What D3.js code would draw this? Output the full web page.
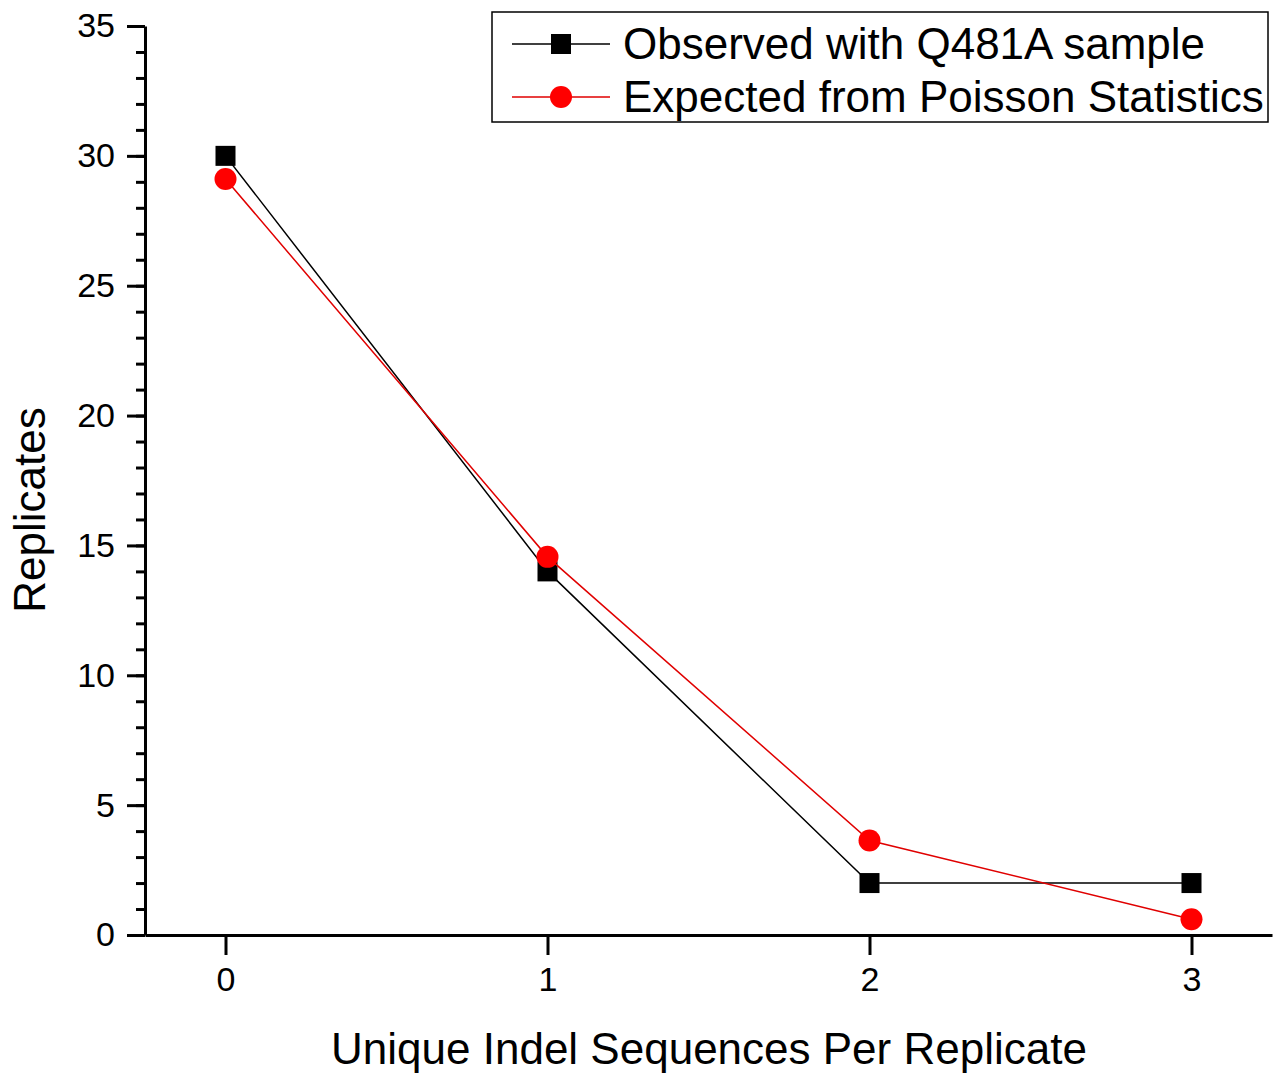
<!DOCTYPE html>
<html>
<head>
<meta charset="utf-8">
<script src="https://cdn.jsdelivr.net/npm/d3@7"></script>
<style>
  html, body { margin: 0; padding: 0; background: #fff; }
  svg { display: block; font-family: "Liberation Sans", Arial, sans-serif; }
</style>
</head>
<body>
<svg id="chart" width="1276" height="1076"></svg>
<script>
const categories = [0, 1, 2, 3];
const observed = [30, 14, 2, 2];
const expected = [29.11, 14.56, 3.64, 0.61];
const yMajorTicks = [0, 5, 10, 15, 20, 25, 30, 35];
const seriesNames = ["Observed with Q481A sample", "Expected from Poisson Statistics"];
const xTitle = "Unique Indel Sequences Per Replicate";
const yTitle = "Replicates";

const svg = d3.select("#chart");
const x = d3.scaleLinear().domain([-0.25, 3.25]).range([145, 1272]);
const y = d3.scaleLinear().domain([0, 35]).range([935, 26]);

// Minor y ticks
const minor = svg.append("g").attr("transform", `translate(${x(-0.25)},0)`)
  .call(d3.axisLeft(y).tickValues(d3.range(0, 36, 1)).tickSize(9).tickSizeOuter(0).tickFormat(""));
minor.select(".domain").remove();
minor.selectAll("line").attr("stroke", "#000").attr("stroke-width", 3);

// Major y axis
const yAx = svg.append("g").attr("transform", `translate(${x(-0.25)},0)`)
  .call(d3.axisLeft(y).tickValues(yMajorTicks).tickSize(18).tickSizeOuter(0).tickPadding(12));
yAx.select(".domain").attr("stroke", "#000").attr("stroke-width", 3);
yAx.selectAll("line").attr("stroke", "#000").attr("stroke-width", 3);
yAx.selectAll("text").attr("font-size", 34).attr("fill", "#000")
  .attr("font-family", "Liberation Sans, Arial, sans-serif");

// X axis
const xAx = svg.append("g").attr("transform", `translate(0,${y(0)})`)
  .call(d3.axisBottom(x).tickValues(categories).tickSize(20).tickSizeOuter(0).tickPadding(12).tickFormat(d3.format("d")));
xAx.select(".domain").attr("stroke", "#000").attr("stroke-width", 3);
xAx.selectAll("line").attr("stroke", "#000").attr("stroke-width", 3);
xAx.selectAll("text").attr("font-size", 34).attr("fill", "#000")
  .attr("font-family", "Liberation Sans, Arial, sans-serif");

// Titles
svg.append("text").attr("x", 709).attr("y", 1064).attr("text-anchor", "middle")
  .attr("font-size", 44).attr("fill", "#000").text(xTitle);
svg.append("text").attr("transform", "translate(45,510) rotate(-90)").attr("text-anchor", "middle")
  .attr("font-size", 44).attr("fill", "#000").text(yTitle);

// Series
const line = d3.line().x((d, i) => x(categories[i])).y(d => y(d));
svg.append("path").datum(observed).attr("d", line).attr("fill", "none")
  .attr("stroke", "#000").attr("stroke-width", 1.5);
svg.selectAll("rect.obs").data(observed).enter().append("rect").attr("class", "obs")
  .attr("x", (d, i) => x(categories[i]) - 10).attr("y", d => y(d) - 10)
  .attr("width", 20).attr("height", 20).attr("fill", "#000");

svg.append("path").datum(expected).attr("d", line).attr("fill", "none")
  .attr("stroke", "#e00000").attr("stroke-width", 1.5);
svg.selectAll("circle.exp").data(expected).enter().append("circle").attr("class", "exp")
  .attr("cx", (d, i) => x(categories[i])).attr("cy", d => y(d))
  .attr("r", 11).attr("fill", "#ff0000");

// Legend
const lg = svg.append("g");
lg.append("rect").attr("x", 492).attr("y", 12).attr("width", 776).attr("height", 110)
  .attr("fill", "#fff").attr("stroke", "#000").attr("stroke-width", 1.5);
const rows = [44, 97];
lg.append("line").attr("x1", 512).attr("x2", 610).attr("y1", rows[0]).attr("y2", rows[0])
  .attr("stroke", "#000").attr("stroke-width", 1.5);
lg.append("rect").attr("x", 551).attr("y", rows[0] - 10).attr("width", 20).attr("height", 20).attr("fill", "#000");
lg.append("line").attr("x1", 512).attr("x2", 610).attr("y1", rows[1]).attr("y2", rows[1])
  .attr("stroke", "#e00000").attr("stroke-width", 1.5);
lg.append("circle").attr("cx", 561).attr("cy", rows[1]).attr("r", 11).attr("fill", "#ff0000");
seriesNames.forEach((n, i) => {
  lg.append("text").attr("x", 623).attr("y", rows[i] + 15).attr("font-size", 44)
    .attr("fill", "#000").text(n);
});
</script>
</body>
</html>
